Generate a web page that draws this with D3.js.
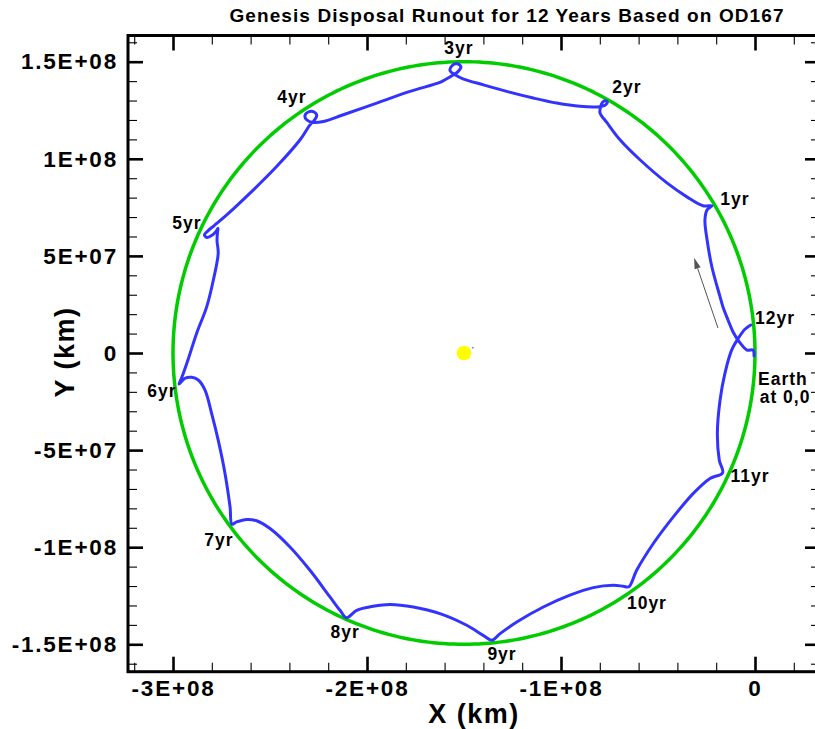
<!DOCTYPE html>
<html>
<head>
<meta charset="utf-8">
<script src="https://cdn.jsdelivr.net/npm/d3@7"></script>
<style>
  html, body { margin: 0; padding: 0; background: #fff; }
  svg { display: block; }
  text { font-family: "Liberation Sans", Arial, Helvetica, sans-serif; font-weight: bold; fill: #000; }
</style>
</head>
<body>
<svg id="chart" width="815" height="729"></svg>
<script>
// ---- data (units: million km) ----
const trajX = [
  -0.5, -1.0, -4.1, -7.7, -11.3, -13.9, -16.5, -18.0, -22.2, -24.7, -25.8, -24.7, -22.2,
  -26.8, -35.1, -45.4, -59.3, -69.6, -76.3, -79.9, -79.5, -78.7, -77.0, -76.1, -77.0, -79.0, -81.6,
  -90.2, -102.2, -114.3, -128.0, -140.1, -150.5, -154.6, -157.2, -156.2, -153.6, -151.6, -153.1, -156.2, -159.8, -162.4,
  -177.8, -195.0, -212.2, -222.5, -227.8, -231.1, -232.0, -230.3, -227.3, -225.9, -227.3, -229.4,
  -234.5, -246.6, -260.3, -272.3, -278.9, -282.0, -283.8, -282.5, -279.9, -277.6, -276.8, -277.1, -277.3,
  -276.7, -279.2, -282.6, -287.8, -292.3, -295.4, -296.9,
  -293.8, -290.4, -287.0, -283.5, -280.1, -276.7, -273.2, -270.6, -269.6,
  -267.2, -262.0, -256.9, -250.0, -239.7, -229.4, -219.1, -213.9, -210.6,
  -205.3, -196.8, -188.1, -176.1, -162.4, -148.6, -140.1, -135.7,
  -131.4, -122.8, -109.1, -95.4, -83.4, -73.0, -67.9, -65.0,
  -61.0, -52.4, -42.1, -31.8, -23.2, -16.7,
  -18.4, -19.4, -18.0, -15.5, -12.0, -8.6, -5.2, -2.2
];
const trajY = [
  -1.5, 1.5, 1.5, 5.2, 10.8, 17.0, 23.7, 28.9, 44.3, 58.3, 68.6, 73.7, 75.8,
  75.8, 80.4, 87.6, 99.5, 109.8, 118.6, 123.7, 127.0, 129.0, 129.9, 129.2, 127.8, 127.0, 126.7,
  127.0, 128.7, 131.3, 134.7, 138.1, 141.2, 143.3, 145.4, 147.9, 149.0, 147.4, 144.9, 142.8, 140.7, 139.3,
  134.7, 128.7, 122.7, 119.2, 118.7, 120.1, 122.2, 124.1, 124.1, 122.2, 119.7, 117.5,
  109.8, 96.0, 82.3, 71.1, 65.5, 62.9, 60.8, 59.5, 60.6, 62.9, 64.2, 61.9, 57.7,
  51.4, 37.6, 23.9, 10.2, -3.6, -12.4, -16.0,
  -13.0, -12.5, -13.9, -19.1, -31.1, -44.9, -62.0, -79.2, -88.1,
  -87.0, -85.7, -86.4, -90.4, -99.9, -111.9, -125.6, -132.5, -136.3,
  -132.5, -130.4, -129.5, -130.8, -134.2, -140.2, -145.4, -147.9,
  -144.5, -138.5, -130.8, -124.7, -120.8, -119.6, -120.1, -120.4,
  -111.9, -98.1, -84.4, -72.3, -64.6, -61.7,
  -55.2, -41.4, -24.2, -10.5, 1.6, 7.6, 12.2, 14.4
];
const orbitCenter = [-150, 0];   // Sun (million km)
const orbitRadius = 150;         // million km
const sunPos = [-150, 0];
const speckPos = [-145.5, 2.7];
const arrowFrom = [-19.1, 12.9];
const arrowTo = [-31.4, 49.0];

const labelText = ["1yr","2yr","3yr","4yr","5yr","6yr","7yr","8yr","9yr","10yr","11yr","12yr","Earth","at 0,0"];
const labelX = [-10.3, -66.0, -152.6, -238.7, -292.8, -305.7, -276.3, -211.3, -130.4, -55.7, -2.6, 10.3, 14.4, 15.5];
const labelY = [79.4, 137.1, 157.2, 132.0, 67.0, -19.6, -96.4, -143.8, -155.2, -128.9, -63.4, 18.0, -13.4, -22.7];

const xMajorTicks = [-3e8, -2e8, -1e8, 0];
const xTickLabels = ["-3E+08", "-2E+08", "-1E+08", "0"];
const yMajorTicks = [-1.5e8, -1e8, -5e7, 0, 5e7, 1e8, 1.5e8];
const yTickLabels = ["-1.5E+08", "-1E+08", "-5E+07", "0", "5E+07", "1E+08", "1.5E+08"];
const xDomain = [-3.232e8, 0.3351e8];
const yDomain = [-1.6411e8, 1.6349e8];

const titleText = "Genesis Disposal Runout for 12 Years Based on OD167";
const xTitle = "X (km)";
const yTitle = "Y (km)";

// ---- layout ----
const frame = { left: 128, right: 820, top: 35.5, bottom: 671.7 };
const M = 1e6;

const svg = d3.select("#chart");
const x = d3.scaleLinear().domain(xDomain).range([frame.left, frame.right]);
const y = d3.scaleLinear().domain(yDomain).range([frame.bottom, frame.top]);

const xMinor = d3.range(-3.2e8, 0.3e8, 2e7).filter(v => !xMajorTicks.some(m => Math.abs(m - v) < 1));
const yMinor = d3.range(-1.6e8, 1.61e8, 1e7).filter(v => !yMajorTicks.some(m => Math.abs(m - v) < 1));

const plot = svg.append("g");

// minor ticks (all four sides)
function minorAxis(axisFn, scale, vals, tr) {
  const g = svg.append("g").attr("transform", tr)
    .call(axisFn(scale).tickValues(vals).tickSize(-9).tickFormat(""));
  g.select(".domain").remove();
  g.selectAll("line").attr("stroke", "#000").attr("stroke-width", 1.1);
  return g;
}
minorAxis(d3.axisBottom, x, xMinor, `translate(0,${frame.bottom})`);
minorAxis(d3.axisTop, x, xMinor, `translate(0,${frame.top})`);
minorAxis(d3.axisLeft, y, yMinor, `translate(${frame.left},0)`);
minorAxis(d3.axisRight, y, yMinor, `translate(${frame.right},0)`);

// major ticks
const fmtX = v => xTickLabels[xMajorTicks.indexOf(v)];
const fmtY = v => yTickLabels[yMajorTicks.indexOf(v)];
const gxb = svg.append("g").attr("transform", `translate(0,${frame.bottom})`)
  .call(d3.axisBottom(x).tickValues(xMajorTicks).tickSize(-15).tickPadding(8).tickFormat(fmtX));
const gxt = svg.append("g").attr("transform", `translate(0,${frame.top})`)
  .call(d3.axisTop(x).tickValues(xMajorTicks).tickSize(-15).tickFormat(""));
const gyl = svg.append("g").attr("transform", `translate(${frame.left},0)`)
  .call(d3.axisLeft(y).tickValues(yMajorTicks).tickSize(-15).tickPadding(10).tickFormat(fmtY));
const gyr = svg.append("g").attr("transform", `translate(${frame.right},0)`)
  .call(d3.axisRight(y).tickValues(yMajorTicks).tickSize(-15).tickFormat(""));
[gxb, gxt, gyl, gyr].forEach(g => {
  g.select(".domain").remove();
  g.selectAll("line").attr("stroke", "#000").attr("stroke-width", 2.6);
  g.selectAll("text").attr("font-size", 22.5).attr("letter-spacing", 1.8)
    .attr("font-family", "Liberation Sans, Arial, sans-serif").attr("font-weight", "bold").attr("fill", "#000");
});

// frame
svg.append("rect")
  .attr("x", frame.left).attr("y", frame.top)
  .attr("width", frame.right - frame.left).attr("height", frame.bottom - frame.top)
  .attr("fill", "none").attr("stroke", "#000").attr("stroke-width", 3);

// orbit circle (Earth orbit)
const circ = d3.range(0, 361, 1).map(a => [
  orbitCenter[0] + orbitRadius * Math.cos(a * Math.PI / 180),
  orbitCenter[1] + orbitRadius * Math.sin(a * Math.PI / 180)
]);
plot.append("path")
  .attr("d", d3.line().x(d => x(d[0] * M)).y(d => y(d[1] * M))(circ))
  .attr("fill", "none").attr("stroke", "#00cc00").attr("stroke-width", 3.5);

// trajectory
const traj = trajX.map((v, i) => [v, trajY[i]]);
plot.append("path")
  .attr("d", d3.line().curve(d3.curveCatmullRom.alpha(0.5)).x(d => x(d[0] * M)).y(d => y(d[1] * M))(traj))
  .attr("fill", "none").attr("stroke", "#3333ff").attr("stroke-width", 3)
  .attr("stroke-linejoin", "round").attr("stroke-linecap", "round");

// sun
plot.append("circle").attr("cx", x(sunPos[0] * M)).attr("cy", y(sunPos[1] * M)).attr("r", 7.3).attr("fill", "#ffff00");
plot.append("rect").attr("x", x(speckPos[0] * M) - 0.8).attr("y", y(speckPos[1] * M) - 0.8).attr("width", 1.6).attr("height", 1.6).attr("fill", "#3399ff");

// arrow
const ax0 = x(arrowFrom[0] * M), ay0 = y(arrowFrom[1] * M), ax1 = x(arrowTo[0] * M), ay1 = y(arrowTo[1] * M);
const ang = Math.atan2(ay1 - ay0, ax1 - ax0);
const hl = 11, hw = 3.2;
const bx = ax1 - hl * Math.cos(ang), by = ay1 - hl * Math.sin(ang);
plot.append("line").attr("x1", ax0).attr("y1", ay0).attr("x2", bx).attr("y2", by)
  .attr("stroke", "#555").attr("stroke-width", 1);
plot.append("path")
  .attr("d", `M${ax1},${ay1}L${bx + hw * Math.sin(ang)},${by - hw * Math.cos(ang)}L${bx - hw * Math.sin(ang)},${by + hw * Math.cos(ang)}Z`)
  .attr("fill", "#555");

// year labels
plot.selectAll("text.lbl").data(labelText).enter().append("text")
  .attr("class", "lbl")
  .attr("x", (d, i) => x(labelX[i] * M)).attr("y", (d, i) => y(labelY[i] * M))
  .attr("text-anchor", "middle").attr("dominant-baseline", "central")
  .attr("font-size", 17.5).attr("letter-spacing", 1)
  .text(d => d);

// title & axis titles
svg.append("text").attr("x", 507).attr("y", 22).attr("text-anchor", "middle")
  .attr("font-size", 19).attr("letter-spacing", 1.1).text(titleText);
svg.append("text").attr("x", 474).attr("y", 723).attr("text-anchor", "middle")
  .attr("font-size", 27).attr("letter-spacing", 1.5).text(xTitle);
svg.append("text").attr("transform", "translate(74,352) rotate(-90)").attr("text-anchor", "middle")
  .attr("font-size", 27).attr("letter-spacing", 1.5).text(yTitle);
</script>
</body>
</html>
